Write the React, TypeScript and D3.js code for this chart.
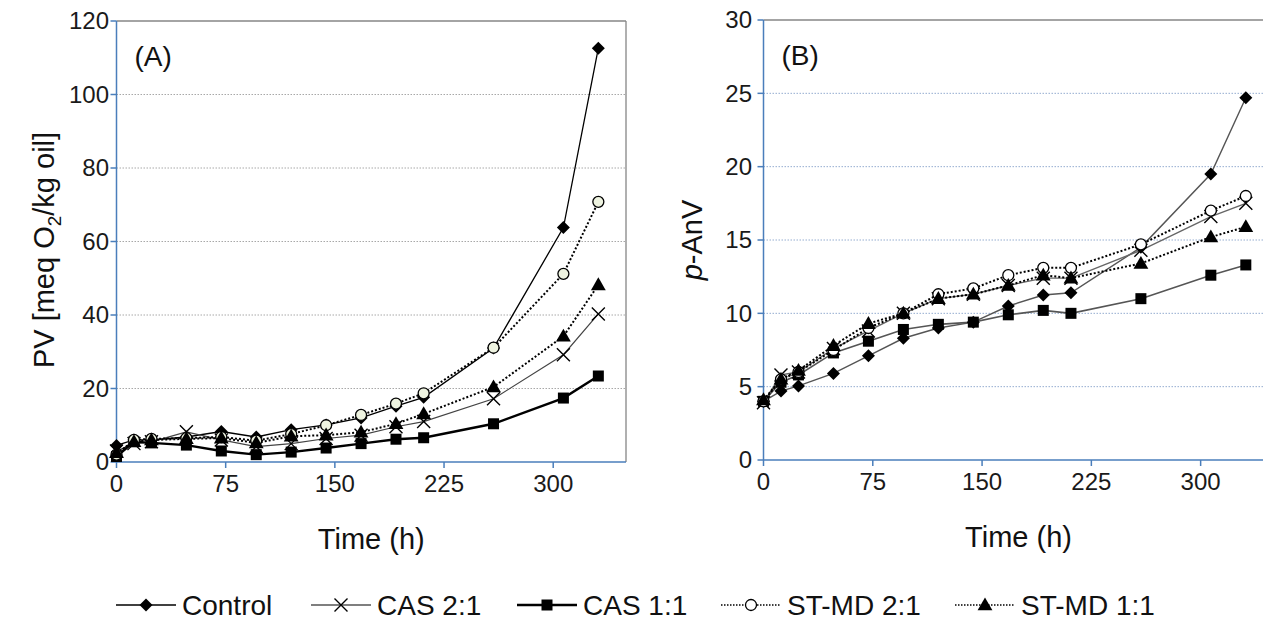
import React from 'react';
import * as d3 from 'd3';

// sampling times (h)
const hours = [0, 12, 24, 48, 72, 96, 120, 144, 168, 192, 211, 259, 307, 331];
const xTicks = [0, 75, 150, 225, 300];

// (A) peroxide value, meq O2/kg oil
const pvControl = [4.5, 6, 6, 6.8, 8.3, 6.8, 8.8, 10.1, 12, 15.2, 17.6, 31, 63.8, 112.6];
const pvCas21 = [3, 5, 5.5, 8.2, 6, 4.2, 5, 6.4, 7.3, 9.6, 11, 17.2, 29.2, 40.3];
const pvCas11 = [1.5, 5.5, 5.2, 4.6, 3, 2, 2.7, 3.8, 5, 6.2, 6.6, 10.4, 17.4, 23.4];
const pvStmd21 = [2, 6, 6.3, 6.5, 6.8, 5.8, 7.6, 10, 12.8, 15.9, 18.7, 31.1, 51.2, 70.8];
const pvStmd11 = [2.5, 5.5, 6, 6.3, 6.5, 5.2, 7, 7.3, 8.1, 10.4, 13.1, 20.4, 34.2, 48.2];
const pvTicks = [0, 20, 40, 60, 80, 100, 120];

// (B) p-anisidine value
const anvControl = [4, 4.7, 5.05, 5.9, 7.1, 8.3, 9, 9.4, 10.5, 11.25, 11.4, 14.5, 19.5, 24.7];
const anvCas21 = [3.9, 5.8, 6, 7.6, 8.8, 10, 11, 11.3, 11.9, 12.4, 12.4, 14.3, 16.6, 17.5];
const anvCas11 = [4, 5.3, 5.8, 7.3, 8.1, 8.9, 9.25, 9.4, 9.9, 10.2, 10, 11, 12.6, 13.3];
const anvStmd21 = [4, 5.5, 6, 7.5, 9, 10, 11.3, 11.7, 12.6, 13.1, 13.1, 14.7, 17, 18];
const anvStmd11 = [4.1, 5.5, 6.1, 7.8, 9.3, 10, 11, 11.3, 11.9, 12.6, 12.4, 13.4, 15.2, 15.9];
const anvTicks = [0, 5, 10, 15, 20, 25, 30];

const names = ['Control', 'CAS 2:1', 'CAS 1:1', 'ST-MD 2:1', 'ST-MD 1:1'];
const shapes = ['diamond', 'cross', 'square', 'circle', 'triangle'];

const FONT = 'Liberation Sans, Arial, sans-serif';
const AXIS = '#4a7ebb';

function Marker({ kind, x, y, fill }: any) {
  if (kind === 'diamond') {
    const r = 6.5;
    return <path d={`M${x},${y - r}L${x + r},${y}L${x},${y + r}L${x - r},${y}Z`} fill="#000" />;
  }
  if (kind === 'square') {
    return <rect x={x - 5.5} y={y - 5.5} width={11} height={11} fill="#000" />;
  }
  if (kind === 'triangle') {
    const p = d3.symbol(d3.symbolTriangle, 95)();
    return <path d={p as string} transform={`translate(${x},${y + 1})`} fill="#000" />;
  }
  if (kind === 'circle') {
    return <circle cx={x} cy={y} r={5.5} fill={fill} stroke="#000" strokeWidth={1.3} />;
  }
  const r = 6.5;
  return (
    <path d={`M${x - r},${y - r}L${x + r},${y + r}M${x - r},${y + r}L${x + r},${y - r}`}
      stroke="#000" strokeWidth={1.4} fill="none" />
  );
}

function Panel({ box, yMax, yTicks, series, styles, grid, label, yTitle, labelRight, clipRight }: any) {
  const x = d3.scaleLinear().domain([0, 350]).range([box.left, box.right]);
  const y = d3.scaleLinear().domain([0, yMax]).range([box.bottom, box.top]);
  const line = d3.line<number>().x((_, i) => x(hours[i])).y(d => y(d));
  const right = Math.min(box.right, clipRight);
  return (
    <g>
      {yTicks.slice(1, -1).map((t: number) => (
        <line key={t} x1={box.left} x2={right} y1={y(t)} y2={y(t)}
          stroke={grid} strokeWidth={1} strokeDasharray="1.5,1.5" />
      ))}
      <line x1={box.left} x2={right} y1={box.top} y2={box.top} stroke="#868686" strokeWidth={1.3} />
      {box.right <= clipRight && (
        <line x1={box.right} x2={box.right} y1={box.top} y2={box.bottom} stroke="#868686" strokeWidth={1.3} />
      )}
      <line x1={box.left} x2={box.left} y1={box.top} y2={box.bottom} stroke={AXIS} strokeWidth={1.5} />
      <line x1={box.left} x2={right} y1={box.bottom} y2={box.bottom} stroke={AXIS} strokeWidth={1.5} />
      {yTicks.map((t: number) => (
        <g key={t}>
          <line x1={box.left - 6} x2={box.left} y1={y(t)} y2={y(t)} stroke={AXIS} strokeWidth={1.5} />
          <text x={labelRight} y={y(t)} dy="0.35em" textAnchor="end" fontSize={24}
            fontFamily={FONT} fill="#1a1a1a">{t}</text>
        </g>
      ))}
      {xTicks.map(t => (
        <g key={t}>
          <line x1={x(t)} x2={x(t)} y1={box.bottom} y2={box.bottom + 6} stroke={AXIS} strokeWidth={1.5} />
          <text x={x(t)} y={box.bottom + 30} textAnchor="middle" fontSize={24}
            fontFamily={FONT} fill="#1a1a1a">{t}</text>
        </g>
      ))}
      <text x={(box.left + box.right) / 2} y={box.bottom + 87} textAnchor="middle" fontSize={29}
        fontFamily={FONT} fill="#111">Time (h)</text>
      {yTitle}
      <text x={box.left + 18} y={box.top + 45} fontSize={28} fontFamily={FONT} fill="#111">{label}</text>
      {series.map((s: number[], i: number) => (
        <path key={i} d={line(s) as string} fill="none" stroke={styles[i].stroke}
          strokeWidth={styles[i].width} strokeDasharray={styles[i].dash} />
      ))}
      {series.map((s: number[], i: number) => (
        <g key={'m' + i}>
          {s.map((v, j) => (
            <Marker key={j} kind={shapes[i]} x={x(hours[j])} y={y(v)} fill={styles[i].fill} />
          ))}
        </g>
      ))}
    </g>
  );
}

const stylesA = [
  { stroke: '#000', width: 1.3 },
  { stroke: '#444', width: 1.2 },
  { stroke: '#000', width: 2.4 },
  { stroke: '#000', width: 2, dash: '2,2', fill: '#eef3e0' },
  { stroke: '#000', width: 2, dash: '2,2' },
];
const stylesB = [
  { stroke: '#555', width: 1.4 },
  { stroke: '#666', width: 1.4 },
  { stroke: '#555', width: 1.6 },
  { stroke: '#000', width: 2, dash: '2,2', fill: '#fff' },
  { stroke: '#000', width: 2, dash: '2,2' },
];

const legendX = [116, 311, 517, 721, 955];

export default function App() {
  const boxA = { left: 116.5, right: 626, top: 21, bottom: 462 };
  const boxB = { left: 763.5, right: 1273.5, top: 20, bottom: 460 };
  return (
    <svg width={1263} height={621} style={{ position: 'absolute', left: 0, top: 0, background: '#fff' }}>
      <Panel box={boxA} yMax={120} yTicks={pvTicks} grid="#a8a8a8" label="(A)" labelRight={109}
        clipRight={1263}
        series={[pvControl, pvCas21, pvCas11, pvStmd21, pvStmd11]} styles={stylesA}
        yTitle={
          <text transform="translate(54,250) rotate(-90)" textAnchor="middle" fontSize={29}
            fontFamily={FONT} fill="#111">
            PV [meq O<tspan fontSize={19} dy={7}>2</tspan><tspan dy={-7}>/kg oil]</tspan>
          </text>
        } />
      <Panel box={boxB} yMax={30} yTicks={anvTicks} grid="#95add0" label="(B)" labelRight={752}
        clipRight={1263}
        series={[anvControl, anvCas21, anvCas11, anvStmd21, anvStmd11]} styles={stylesB}
        yTitle={
          <text transform="translate(702,240) rotate(-90)" textAnchor="middle" fontSize={29}
            fontFamily={FONT} fill="#111">
            <tspan fontStyle="italic">p</tspan>-AnV
          </text>
        } />
      {names.map((n, i) => {
        const x0 = legendX[i];
        const st = stylesA[i];
        return (
          <g key={n}>
            <line x1={x0} x2={x0 + 60} y1={605} y2={605} stroke={i === 1 ? '#555' : '#000'}
              strokeWidth={i === 2 ? 2.6 : i > 2 ? 1.5 : 1.3} strokeDasharray={i > 2 ? '1.5,1.5' : undefined} />
            <Marker kind={shapes[i]} x={x0 + 30} y={605} fill={i === 3 ? '#fff' : st.fill} />
            <text x={x0 + 66} y={615} fontSize={28} fontFamily={FONT} fill="#111">{n}</text>
          </g>
        );
      })}
    </svg>
  );
}
